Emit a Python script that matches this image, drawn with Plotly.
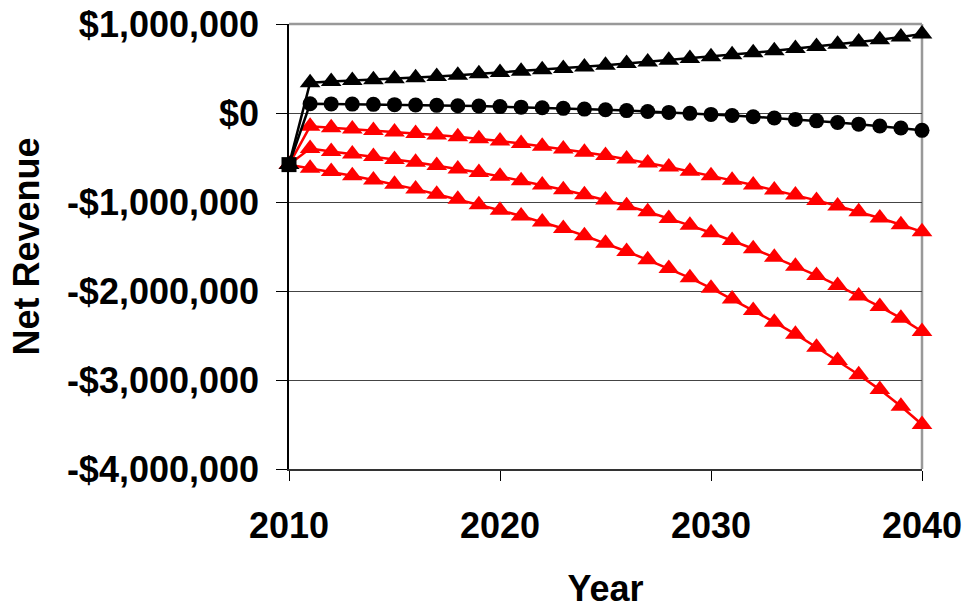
import plotly.graph_objects as go

# Net revenue projections, 2010-2040 (US dollars)
years = list(range(2010, 2041))

high_case = [-580000, 340000, 355000, 365000, 375000, 385000, 397000, 410000, 425000, 440000,
             455000, 470000, 485000, 500000, 518000, 536000, 555000, 574000, 593000, 613000,
             633000, 655000, 677000, 700000, 724000, 748000, 772000, 797000, 824000, 853000, 888000]

base_case = [-580000, 104000, 102000, 100000, 97000, 94000, 90000, 86000, 82000, 78000,
             72000, 66000, 59000, 52000, 44000, 36000, 27000, 17000, 7000, -4000,
             -16000, -28000, -42000, -56000, -72000, -88000, -106000, -125000, -146000, -168000, -195000]

low_case_1 = [-580000, -150000, -165000, -180000, -197000, -213000, -230000, -248000, -268000, -290000,
              -315000, -343000, -373000, -405000, -440000, -478000, -518000, -562000, -607000, -655000,
              -705000, -757000, -810000, -865000, -922000, -982000, -1045000, -1110000, -1180000, -1255000, -1335000]

low_case_2 = [-580000, -400000, -433000, -460000, -490000, -522000, -553000, -590000, -628000, -668000,
              -712000, -760000, -810000, -862000, -918000, -978000, -1042000, -1110000, -1185000, -1262000,
              -1345000, -1432000, -1525000, -1622000, -1722000, -1825000, -1937000, -2055000, -2175000, -2305000, -2455000]

low_case_3 = [-580000, -620000, -658000, -705000, -752000, -800000, -855000, -912000, -970000, -1030000,
              -1092000, -1157000, -1225000, -1298000, -1378000, -1464000, -1556000, -1650000, -1748000, -1852000,
              -1968000, -2090000, -2220000, -2350000, -2485000, -2632000, -2782000, -2940000, -3108000, -3295000, -3500000]

y_tick_values = [1000000, 0, -1000000, -2000000, -3000000, -4000000]
y_tick_labels = ["$1,000,000", "$0", "-$1,000,000", "-$2,000,000", "-$3,000,000", "-$4,000,000"]
x_tick_values = [2010, 2020, 2030, 2040]

FONT = "Liberation Sans, Arial, sans-serif"
RED = "#FF0000"

fig = go.Figure()

for series in (low_case_3, low_case_2, low_case_1):
    fig.add_trace(go.Scatter(
        x=years, y=series, mode="lines+markers", cliponaxis=False,
        line=dict(color=RED, width=2.5),
        marker=dict(symbol="triangle-up", size=18, color=RED),
    ))

fig.add_trace(go.Scatter(
    x=years, y=high_case, mode="lines+markers", cliponaxis=False,
    line=dict(color="black", width=2.5),
    marker=dict(symbol="triangle-up", size=18, color="black"),
))

fig.add_trace(go.Scatter(
    x=years, y=base_case, mode="lines+markers", cliponaxis=False,
    line=dict(color="black", width=2.5),
    marker=dict(symbol=["square"] + ["circle"] * (len(years) - 1), size=15, color="black"),
))

# Grey frame on the top and right sides of the plot area
fig.add_shape(type="line", xref="x domain", yref="y domain", x0=0, x1=1, y0=1, y1=1,
              line=dict(color="#999999", width=2.5), layer="below")
fig.add_shape(type="line", xref="x domain", yref="y domain", x0=1, x1=1, y0=0, y1=1,
              line=dict(color="#999999", width=2.5), layer="below")

fig.update_layout(
    width=964, height=609,
    margin=dict(l=289, r=42, t=24, b=140),
    paper_bgcolor="white", plot_bgcolor="white",
    showlegend=False,
    font=dict(family=FONT, size=36, color="black"),
    xaxis=dict(
        range=[2010, 2040], tickvals=x_tick_values, automargin=False,
        ticks="outside", ticklen=10, tickwidth=1, tickcolor="black",
        showline=True, linecolor="#333333", linewidth=2,
        showgrid=False, zeroline=False,
        tickfont=dict(family=FONT, size=36, color="black", weight="bold"),
        ticklabelstandoff=14,
        title=dict(text="<b>Year</b>", font=dict(family=FONT, size=36), standoff=45),
    ),
    yaxis=dict(
        range=[-4000000, 1000000], tickvals=y_tick_values, ticktext=y_tick_labels, automargin=False,
        ticks="outside", ticklen=11, tickwidth=1, tickcolor="black",
        showline=True, linecolor="black", linewidth=1.5,
        showgrid=True, gridcolor="#444444", gridwidth=1, zeroline=False,
        tickfont=dict(family=FONT, size=36, color="black", weight="bold"),
        ticklabelstandoff=10,
        title=dict(text="<b>Net Revenue</b>", font=dict(family=FONT, size=36), standoff=16),
    ),
)

fig.write_html("out.html")
